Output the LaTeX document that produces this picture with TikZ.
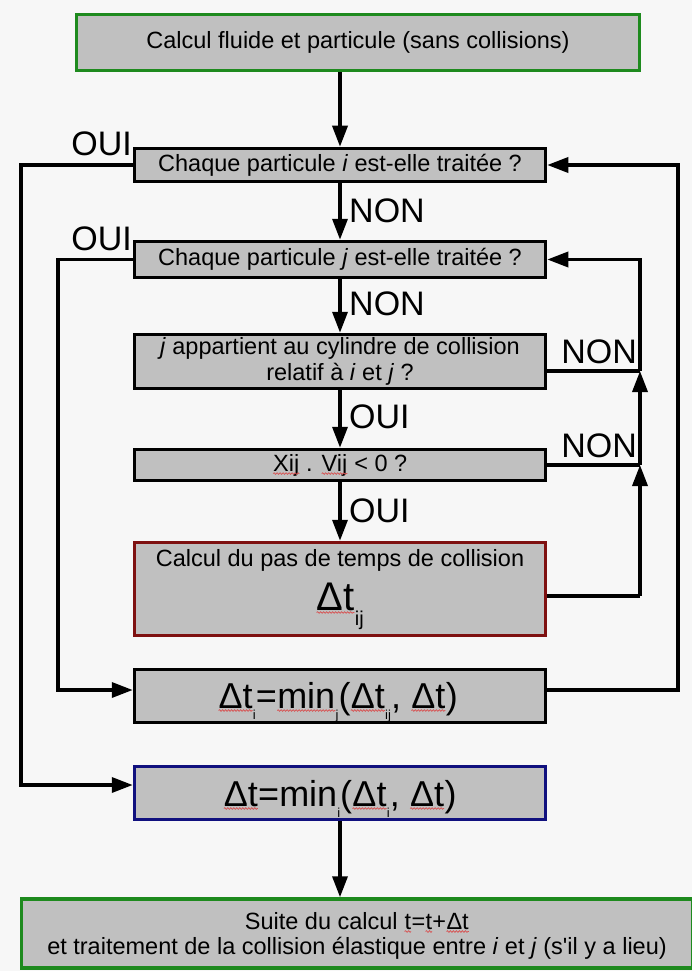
\documentclass[tikz,border=0pt]{standalone}
\usepackage{fontspec}
\setmainfont{Liberation Sans}
\usetikzlibrary{arrows.meta,decorations.pathmorphing,calc}
\definecolor{boxgray}{HTML}{C0C0C0}
\definecolor{bggray}{HTML}{F7F7F7}
\definecolor{grn}{HTML}{1E8A1E}
\definecolor{dred}{HTML}{7E1010}
\definecolor{dblue}{HTML}{10107E}
\definecolor{sqred}{HTML}{D85050}
\newcommand\sqw[1]{\tikz[baseline=(w.base)]{\node[inner sep=0pt,outer sep=0pt,draw=none,fill=none,minimum width=0pt,minimum height=0pt,anchor=base](w) at (0,0){#1};\draw[sqred,line width=0.7pt,decorate,decoration={snake,amplitude=0.8pt,segment length=3pt}]([yshift=-2.5pt]w.base west)--([yshift=-2.5pt]w.base east);}}
\newcommand\sbs[2][-11pt]{\raisebox{#1}{\fontsize{13}{13}\selectfont #2}}
\begin{document}
\begin{tikzpicture}[x=1pt,y=-1pt,
  box/.style={draw=black,line width=3.5pt,fill=boxgray,inner sep=0pt,align=center,font=\fontsize{23.5}{26}\selectfont},
  conn/.style={line width=3.5pt},
  arr/.style={line width=3.5pt,-{Triangle[length=21pt,width=15pt]}},
  lab/.style={font=\fontsize{34}{34}\selectfont,inner sep=0pt},
  txt/.style={inner sep=0pt,font=\fontsize{23.5}{26}\selectfont},
  frm/.style={inner sep=0pt,font=\fontsize{36}{36}\selectfont}]
\useasboundingbox (0,0) rectangle (692,971);
\fill[bggray] (0,0) rectangle (692,971);
% boxes
\node[box,draw=grn,minimum width=563pt,minimum height=56pt] (top) at (358,42.5) {Calcul fluide et particule (sans collisions)};
\node[box,minimum width=411pt,minimum height=33pt] (ib) at (340,165) {Chaque particule \textit{i} est-elle traitée ?};
\node[box,minimum width=411pt,minimum height=36pt] (jb) at (340,259.5) {Chaque particule \textit{j} est-elle traitée ?};
\node[box,minimum width=411pt,minimum height=54pt] (cyl) at (340,361.5) {\textit{j} appartient au cylindre de collision\\relatif à \textit{i} et \textit{j} ?};
\node[box,minimum width=411pt,minimum height=31pt] (xij) at (340,465) {\sqw{Xij} . \sqw{Vij} < 0 ?};
\node[box,draw=dred,minimum width=411pt,minimum height=93pt] (red) at (340,589) {};
\node[box,minimum width=411pt,minimum height=53pt] (dti) at (340,696) {};
\node[box,draw=dblue,minimum width=411pt,minimum height=53pt] (blue) at (340,793) {};
\begin{scope}
\clip (0,0) rectangle (692,971);
\node[box,draw=grn,minimum width=671pt,minimum height=69pt] (bot) at (357,933.5) {};
\end{scope}
% texts inside boxes
\node[txt,anchor=base] (redt) at (340,566) {Calcul du pas de temps de collision};
\node[inner sep=0pt,anchor=base,font=\fontsize{40}{40}\selectfont] (redf) at (340,610) {\sqw{Δt}\raisebox{-15pt}{\fontsize{20}{20}\selectfont ij}};
\node[frm,anchor=base] (dtif) at (338,708) {\sqw{Δt}\sbs{i}=\sqw{min}\sbs{j}(\sqw{Δt}\sbs{ij}, \sqw{Δt})};
\node[frm,anchor=base] (bluef) at (340,806) {\sqw{Δt}=min\sbs{i}(\sqw{Δt}\sbs{i}, \sqw{Δt})};
\node[txt,anchor=base] (bott1) at (357,929) {Suite du calcul \sqw{t}=\sqw{t}+\sqw{Δt}};
\node[txt,anchor=base] (bott2) at (357,954) {et traitement de la collision élastique entre \textit{i} et \textit{j} (s\textquotesingle il y a lieu)};
% labels
\node[lab,anchor=base east] (oui1) at (132,155) {OUI};
\node[lab,anchor=base east] (oui2) at (132,250) {OUI};
\node[lab,anchor=base west] (non1) at (349,222) {NON};
\node[lab,anchor=base west] (non2) at (349,315) {NON};
\node[lab,anchor=base east] (non3) at (637,363) {NON};
\node[lab,anchor=base east] (non4) at (637,457) {NON};
\node[lab,anchor=base west] (oui3) at (349,428) {OUI};
\node[lab,anchor=base west] (oui4) at (349,522) {OUI};
% helper coordinates
\coordinate (L1) at (21,0);
\coordinate (L2) at (58,0);
\coordinate (R1) at (640,0);
\coordinate (R2) at (678,0);
\coordinate (cE) at ([yshift=-9.5pt]cyl.east);
\coordinate (rE) at ([yshift=-7pt]red.east);
\coordinate (dE) at ([yshift=6pt]dti.east);
\coordinate (dW) at ([yshift=6pt]dti.west);
\coordinate (bW) at ([yshift=8pt]blue.west);
% main flow
\draw[arr] (top.south -| ib.north) -- (ib.north);
\draw[arr] (ib.south) -- (jb.north);
\draw[arr] (jb.south) -- (cyl.north);
\draw[arr] (cyl.south) -- (xij.north);
\draw[arr] (xij.south) -- (red.north);
\draw[arr] (blue.south) -- (blue.south |- bot.north);
% left loops
\draw[arr] (ib.west) -- (ib.west -| L1) -- (L1 |- bW) -- (bW);
\draw[arr] (jb.west) -- (jb.west -| L2) -- (L2 |- dW) -- (dW);
% right loops
\draw[conn] (cE) -- (cE -| R1);
\draw[conn] (xij.east) -- (xij.east -| R1);
\draw[conn] (rE) -- (rE -| R1);
\draw[arr] (rE -| R1) -- (xij.east -| R1);
\draw[arr] (xij.east -| R1) -- (cE -| R1);
\draw[arr] (cE -| R1) -- (jb.east -| R1) -- (jb.east);
\draw[arr] (dE) -- (dE -| R2) -- (ib.east -| R2) -- (ib.east);
\end{tikzpicture}
\end{document}
